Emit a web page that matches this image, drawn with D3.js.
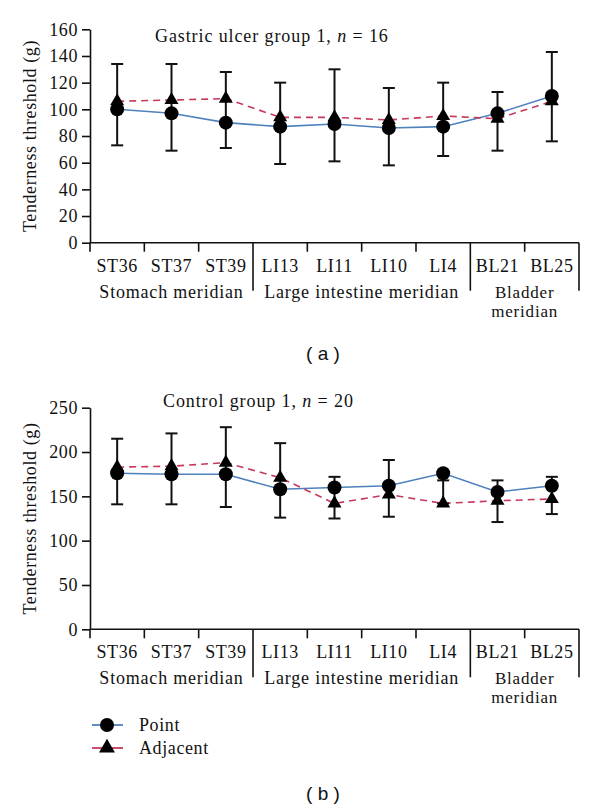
<!DOCTYPE html>
<html>
<head>
<meta charset="utf-8">
<script src="https://cdn.jsdelivr.net/npm/d3@7"></script>
<style>
  html, body { margin: 0; padding: 0; background: #fff; }
  svg { display: block; }
  text { font-family: "Liberation Serif", "Times New Roman", serif; fill: #111; }
</style>
</head>
<body>
<svg id="chart" width="600" height="809"></svg>
<script>
// ---------- data ----------
const categories = ["ST36", "ST37", "ST39", "LI13", "LI11", "LI10", "LI4", "BL21", "BL25"];
const meridianNames = [["Stomach meridian"], ["Large intestine meridian"], ["Bladder", "meridian"]];
const meridianStart = [0, 3, 7];
const meridianCount = [3, 4, 2];

// Panel (a): Gastric ulcer group 1, n = 16
const ulcerPoint    = [100, 97, 90, 87, 89, 86, 87, 97, 110];
const ulcerAdjacent = [106, 107, 108, 94, 94, 92, 95, 93, 106];
const ulcerErrHigh  = [134, 134, 128, 120, 130, 116, 120, 113, 143];
const ulcerErrLow   = [73, 69, 71, 59, 61, 58, 65, 69, 76];
const ulcerTicks    = [0, 20, 40, 60, 80, 100, 120, 140, 160];

// Panel (b): Control group 1, n = 20
const controlPoint    = [176, 175, 175, 158, 160, 162, 176, 155, 162];
const controlAdjacent = [183, 184, 188, 171, 142, 152, 142, 145, 147];
const controlErrHigh  = [215, 221, 228, 210, 172, 191, 168, 168, 172];
const controlErrLow   = [141, 141, 138, 126, 125, 127, 142, 121, 130];
const controlTicks    = [0, 50, 100, 150, 200, 250];

const seriesNames = ["Point", "Adjacent"];

// ---------- styling ----------
const BLUE = "#4f81bd";
const RED = "#c8385a";
const FS = 18;

const svg = d3.select("#chart");

function drawPanel(cfg) {
  const g = svg.append("g");
  const x = d3.scaleBand().domain(categories).range([90, 579]).padding(0);
  const y = d3.scaleLinear().domain([0, cfg.max]).range([cfg.y0, cfg.y1]);
  const bw = x.bandwidth();
  const cx = c => x(c) + bw / 2;

  // y axis
  const yAxis = d3.axisLeft(y).tickValues(cfg.ticks).tickSize(8).tickPadding(4).tickSizeOuter(0);
  const ya = g.append("g").attr("transform", "translate(90,0)").call(yAxis);
  ya.select(".domain").attr("stroke", "#111").attr("stroke-width", 1.6);
  ya.selectAll(".tick line").attr("stroke", "#111").attr("stroke-width", 1.6);
  ya.selectAll(".tick text").attr("font-family", "Liberation Serif").attr("font-size", FS).attr("fill", "#111").attr("letter-spacing", 0.6);

  // x axis line
  g.append("line").attr("x1", 90).attr("x2", 579).attr("y1", cfg.y0).attr("y2", cfg.y0)
    .attr("stroke", "#111").attr("stroke-width", 1.6);

  // boundary ticks / separators
  const boundaries = d3.range(categories.length + 1);
  const sepIdx = [3, 7, 9];
  g.selectAll(".bt").data(boundaries).enter().append("line")
    .attr("x1", i => 90 + i * bw).attr("x2", i => 90 + i * bw)
    .attr("y1", cfg.y0)
    .attr("y2", i => cfg.y0 + (sepIdx.includes(i) ? 48 : 9))
    .attr("stroke", "#111").attr("stroke-width", 1.6);

  // category labels
  g.selectAll(".cl").data(categories).enter().append("text")
    .attr("x", c => cx(c)).attr("y", cfg.y0 + 29)
    .attr("text-anchor", "middle").attr("font-size", FS).attr("letter-spacing", 0.6)
    .text(c => c);

  // meridian labels (multi-line labels as tspans of one text)
  meridianNames.forEach((lines, k) => {
    const a = 90 + meridianStart[k] * bw;
    const b = 90 + (meridianStart[k] + meridianCount[k]) * bw;
    const multi = lines.length > 1;
    const t = g.append("text").attr("y", cfg.y0 + 55)
      .attr("text-anchor", "middle").attr("font-size", multi ? 17 : FS).attr("letter-spacing", 0.8);
    lines.forEach((s, j) => {
      t.append("tspan").attr("x", (a + b) / 2).attr("dy", j === 0 ? 0 : 19).text(s);
    });
  });

  // y axis title
  g.append("text")
    .attr("transform", `translate(36,${(cfg.y0 + cfg.y1) / 2}) rotate(-90)`)
    .attr("text-anchor", "middle").attr("font-size", FS).attr("letter-spacing", 0.6)
    .text("Tenderness threshold (g)");

  // panel title
  const tt = g.append("text").attr("x", cfg.titleX).attr("y", cfg.titleY).attr("font-size", FS).attr("letter-spacing", 0.9);
  tt.append("tspan").text(cfg.title + ", ");
  tt.append("tspan").attr("font-style", "italic").text("n");
  tt.append("tspan").text(" = " + cfg.n);

  // lines
  const line = d3.line().x((d, i) => cx(categories[i])).y(d => y(d));
  g.append("path").datum(cfg.point).attr("d", line)
    .attr("fill", "none").attr("stroke", BLUE).attr("stroke-width", 1.6);
  g.append("path").datum(cfg.adjacent).attr("d", line)
    .attr("fill", "none").attr("stroke", RED).attr("stroke-width", 1.6).attr("stroke-dasharray", "7,5");

  // error bars
  const eb = g.selectAll(".eb").data(categories).enter().append("g").attr("stroke", "#111").attr("stroke-width", 2);
  eb.append("line").attr("x1", c => cx(c)).attr("x2", c => cx(c))
    .attr("y1", (c, i) => y(cfg.hi[i])).attr("y2", (c, i) => y(cfg.lo[i]));
  eb.append("line").attr("x1", c => cx(c) - 6).attr("x2", c => cx(c) + 6)
    .attr("y1", (c, i) => y(cfg.hi[i])).attr("y2", (c, i) => y(cfg.hi[i]));
  eb.append("line").attr("x1", c => cx(c) - 6).attr("x2", c => cx(c) + 6)
    .attr("y1", (c, i) => y(cfg.lo[i])).attr("y2", (c, i) => y(cfg.lo[i]));

  // markers
  const tri = d3.symbol().type(d3.symbolTriangle).size(85);
  g.selectAll(".tri").data(cfg.adjacent).enter().append("path")
    .attr("d", tri).attr("fill", "#000")
    .attr("transform", (d, i) => `translate(${cx(categories[i])},${y(d)})`);
  g.selectAll(".cir").data(cfg.point).enter().append("circle")
    .attr("cx", (d, i) => cx(categories[i])).attr("cy", d => y(d)).attr("r", 7).attr("fill", "#000");

  // panel letter
  g.append("text").attr("x", 323).attr("y", cfg.letterY).attr("text-anchor", "middle")
    .style("font-family", "'Liberation Sans', Arial, sans-serif")
    .attr("font-size", 19).text(cfg.letter);
}

drawPanel({
  max: 160, ticks: ulcerTicks, y0: 242.7, y1: 29.3,
  point: ulcerPoint, adjacent: ulcerAdjacent, hi: ulcerErrHigh, lo: ulcerErrLow,
  title: "Gastric ulcer group 1", n: 16, titleX: 155, titleY: 42,
  letter: "( a )", letterY: 360
});

drawPanel({
  max: 250, ticks: controlTicks, y0: 629.3, y1: 407.7,
  point: controlPoint, adjacent: controlAdjacent, hi: controlErrHigh, lo: controlErrLow,
  title: "Control group 1", n: 20, titleX: 163, titleY: 407,
  letter: "( b )", letterY: 800
});

// legend
const legend = svg.append("g");
const legendColors = [BLUE, RED];
const legendY = [725, 748];
seriesNames.forEach((name, i) => {
  const row = legend.append("g").attr("transform", `translate(0,${legendY[i]})`);
  row.append("line").attr("x1", 92).attr("x2", 123).attr("y1", 0).attr("y2", 0)
    .attr("stroke", legendColors[i]).attr("stroke-width", 1.8);
  if (i === 0) {
    row.append("circle").attr("cx", 107).attr("cy", 0).attr("r", 7).attr("fill", "#000");
  } else {
    row.append("path").attr("d", d3.symbol().type(d3.symbolTriangle).size(110)).attr("transform", "translate(107,0)").attr("fill", "#000");
  }
  row.append("text").attr("x", 139).attr("y", 6).attr("font-size", FS).attr("letter-spacing", 0.6).text(name);
});
</script>
</body>
</html>
